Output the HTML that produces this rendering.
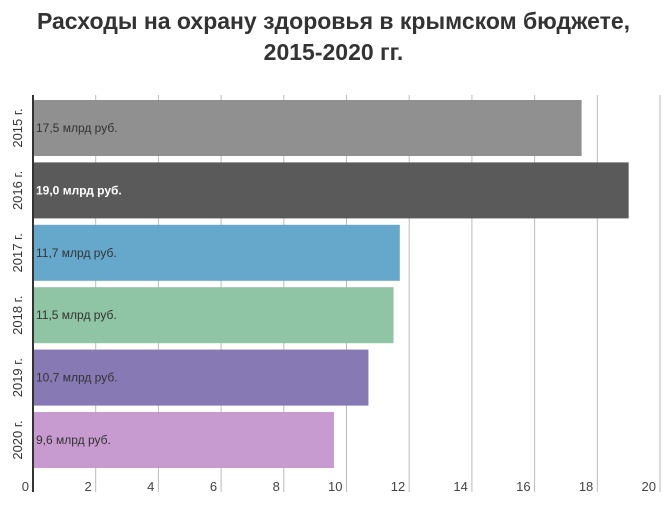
<!DOCTYPE html>
<html><head><meta charset="utf-8"><style>
body{margin:0;background:#fff;width:667px;height:513px;overflow:hidden;font-family:"Liberation Sans",sans-serif}
h1{margin:0;position:absolute;top:6px;left:0;width:667px;text-align:center;font-size:23px;line-height:31px;font-weight:bold;color:#333}
</style></head><body>
<h1>Расходы на охрану здоровья в крымском бюджете,<br>2015-2020 гг.</h1>
<svg id="c" width="667" height="513" style="position:absolute;left:0;top:0"></svg>
<script>
const categories=["2015 г.","2016 г.","2017 г.","2018 г.","2019 г.","2020 г."];
const values=[17.5,19.0,11.7,11.5,10.7,9.6];
const valueLabels=["17,5 млрд руб.","19,0 млрд руб.","11,7 млрд руб.","11,5 млрд руб.","10,7 млрд руб.","9,6 млрд руб."];
const ticks=[0,2,4,6,8,10,12,14,16,18,20];
const colors=["#8f908f","#5a5a5a","#66a8cb","#8fc4a4","#8779b4","#c79bcf"];
const svg=document.getElementById('c');
const NS="http://www.w3.org/2000/svg";
const x0=33,x1=660,yTop=95,yBottom=492;
const x=v=>x0+(v/20)*(x1-x0);
const step=62.4,y=i=>100+i*step,bh=56;
function mk(t,a){const e=document.createElementNS(NS,t);for(const k in a)e.setAttribute(k,a[k]);svg.appendChild(e);return e;}
ticks.forEach((t,i)=>{
  if(i>0){const g=mk('line',{x1:x(t),x2:x(t),y1:yTop,y2:yBottom,stroke:'#bbb','stroke-width':1});
  
  }
  const l=mk('text',{x:x(t)-4,y:491,'text-anchor':'end','font-size':13,fill:'#444'});
  l.textContent=t;
  
  
});
values.forEach((v,i)=>{
  const r=mk('rect',{x:x0,y:y(i),width:x(v)-x0,height:bh,fill:colors[i]});
  
  
  const t=mk('text',{x:x0+3,y:y(i)+bh/2+4,'font-size':12,fill:i==1?'#fff':'#333','font-weight':i==1?'bold':'normal'});
  t.textContent=valueLabels[i];
  
  
  const c=mk('text',{transform:`translate(22,${y(i)+bh/2}) rotate(-90)`,'text-anchor':'middle','font-size':13,fill:'#333'});
  c.textContent=categories[i];
  
  
});
const ax=mk('line',{x1:x0,x2:x0,y1:yTop,y2:yBottom,stroke:'#333','stroke-width':2});


</script>
</body></html>
